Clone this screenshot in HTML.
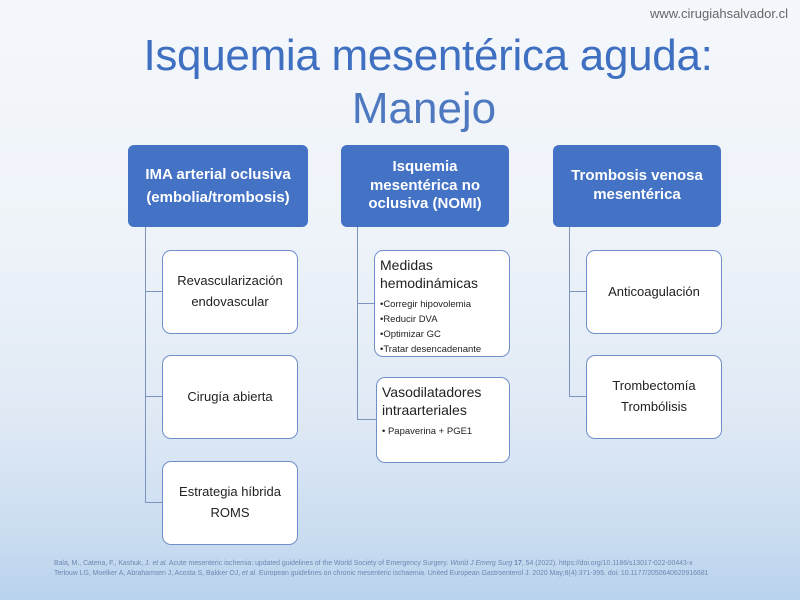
<!DOCTYPE html>
<html><head><meta charset="utf-8"><style>
*{margin:0;padding:0;box-sizing:border-box}
body{width:800px;height:600px;overflow:hidden;position:relative;font-family:"Liberation Sans",sans-serif;
background:linear-gradient(180deg,#f4f7fb 0%,#eef3f9 40%,#dfe9f5 70%,#c9dcf0 90%,#b9d2ee 100%);}
.a{position:absolute}
.h{position:absolute;background:#4472c4;color:#fff;font-weight:bold;font-size:15px;text-align:center;display:flex;align-items:center;justify-content:center;border-radius:6px;line-height:1.55}
.c{position:absolute;background:#fff;border:1px solid #6f8fc6;border-radius:9px;font-size:13px;color:#222;display:flex;flex-direction:column;align-items:center;justify-content:center;text-align:center;line-height:1.6}
.l{position:absolute;background:#7a93bf}
.m{position:absolute;background:#fff;border:1px solid #6f8fc6;border-radius:9px;color:#222;padding:5px 0 0 5px}
.m .t{font-size:14px;line-height:1.3}
.m .b{font-size:9.5px;line-height:1.55;margin-top:6px}
</style></head><body>
<div class="a" style="right:12px;top:6px;font-size:13px;color:#666">www.cirugiahsalvador.cl</div>
<div class="a" style="left:0;width:856px;top:31px;text-align:center;font-size:44px;color:#3f6fc0;letter-spacing:-0.3px">Isquemia mesentérica aguda:</div>
<div class="a" style="left:0;width:848px;top:84px;text-align:center;font-size:44px;color:#4e79c0">Manejo</div>

<div class="h" style="left:128px;top:145px;width:180px;height:82px">IMA arterial oclusiva<br>(embolia/trombosis)</div>
<div class="h" style="left:341px;top:145px;width:168px;height:82px;line-height:1.25">Isquemia<br>mesentérica no<br>oclusiva (NOMI)</div>
<div class="h" style="left:553px;top:145px;width:168px;height:82px;line-height:1.25">Trombosis venosa<br>mesentérica</div>

<div class="l" style="left:145px;top:227px;width:1px;height:276px"></div>
<div class="l" style="left:145px;top:291px;width:17px;height:1px"></div>
<div class="l" style="left:145px;top:396px;width:17px;height:1px"></div>
<div class="l" style="left:145px;top:502px;width:17px;height:1px"></div>
<div class="c" style="left:162px;top:250px;width:136px;height:84px">Revascularización<br>endovascular</div>
<div class="c" style="left:162px;top:355px;width:136px;height:84px">Cirugía abierta</div>
<div class="c" style="left:162px;top:461px;width:136px;height:84px">Estrategia híbrida<br>ROMS</div>

<div class="l" style="left:357px;top:227px;width:1px;height:193px"></div>
<div class="l" style="left:357px;top:303px;width:17px;height:1px"></div>
<div class="l" style="left:357px;top:419px;width:19px;height:1px"></div>
<div class="m" style="left:374px;top:250px;width:136px;height:107px"><div class="t">Medidas<br>hemodinámicas</div><div class="b">•Corregir hipovolemia<br>•Reducir DVA<br>•Optimizar GC<br>•Tratar desencadenante</div></div>
<div class="m" style="left:376px;top:377px;width:134px;height:86px"><div class="t">Vasodilatadores<br>intraarteriales</div><div class="b">• Papaverina + PGE1</div></div>

<div class="l" style="left:569px;top:227px;width:1px;height:170px"></div>
<div class="l" style="left:569px;top:291px;width:17px;height:1px"></div>
<div class="l" style="left:569px;top:396px;width:17px;height:1px"></div>
<div class="c" style="left:586px;top:250px;width:136px;height:84px">Anticoagulación</div>
<div class="c" style="left:586px;top:355px;width:136px;height:84px">Trombectomía<br>Trombólisis</div>

<div class="a" style="left:54px;top:559px;font-size:6.9px;color:#6d88b0;line-height:1.5;white-space:nowrap">Bala, M., Catena, F., Kashuk, J. <i>et al.</i> Acute mesenteric ischemia: updated guidelines of the World Society of Emergency Surgery. <i>World J Emerg Surg</i> <b>17</b>, 54 (2022). https://doi.org/10.1186/s13017-022-00443-x<br>Terlouw LG, Moelker A, Abrahamsen J, Acosta S, Bakker OJ, <i>et al.</i> European guidelines on chronic mesenteric ischaemia. United European Gastroenterol J. 2020 May;8(4):371-395. doi: 10.1177/2050640620916681</div>
</body></html>
